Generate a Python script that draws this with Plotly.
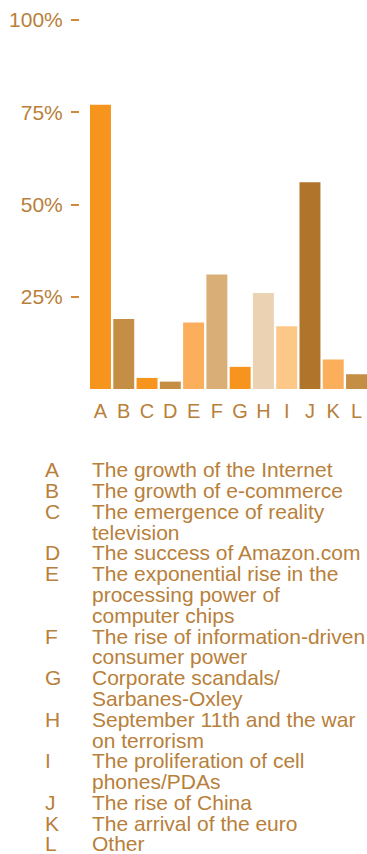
import plotly.graph_objects as go

# Survey responses: share of respondents naming each development
categories = ["A", "B", "C", "D", "E", "F", "G", "H", "I", "J", "K", "L"]
values = [77, 19, 3, 2, 18, 31, 6, 26, 17, 56, 8, 4]
bar_colors = ["#F7941D", "#C48E45", "#F7941D", "#C48E45", "#FBAE5C", "#D9AE77",
              "#F7941D", "#EAD2B3", "#FDC788", "#B0752A", "#FBAE5C", "#C48E45"]

y_ticks = [25, 50, 75, 100]
y_tick_labels = ["25%", "50%", "75%", "100%"]

# Key to the letters, already broken into display lines
descriptions = [
    ["The growth of the Internet"],
    ["The growth of e-commerce"],
    ["The emergence of reality", "television"],
    ["The success of Amazon.com"],
    ["The exponential rise in the", "processing power of", "computer chips"],
    ["The rise of information-driven", "consumer power"],
    ["Corporate scandals/", "Sarbanes-Oxley"],
    ["September 11th and the war", "on terrorism"],
    ["The proliferation of cell", "phones/PDAs"],
    ["The rise of China"],
    ["The arrival of the euro"],
    ["Other"],
]

TEXT = "#B8803A"
TICK = "#D08A3A"
FONT = "Liberation Sans, Arial, Helvetica, sans-serif"

W, H = 367, 854
M_L, M_R, M_T, M_B = 80, 0, 20, 465
plot_h = H - M_T - M_B
plot_w = W - M_L - M_R

fig = go.Figure(
    go.Bar(
        x=categories,
        y=values,
        marker=dict(color=bar_colors, line=dict(width=0)),
        hoverinfo="x+y",
    )
)


def paper_y(px):
    """Convert a pixel row (from top of the page) to paper y."""
    return (H - M_B - px) / plot_h


def paper_x(px):
    """Convert a pixel column to paper x."""
    return (px - M_L) / plot_w


annotations = []
line_step = 20.8
first_mid = 469.6
row = 0
for letter, lines in zip(categories, descriptions):
    annotations.append(dict(
        text=letter, xref="paper", yref="paper",
        x=paper_x(43), y=paper_y(first_mid + row * line_step),
        xanchor="left", yanchor="middle", showarrow=False,
        font=dict(size=21, color=TEXT, family=FONT),
    ))
    for ln in lines:
        annotations.append(dict(
            text=ln, xref="paper", yref="paper",
            x=paper_x(89.5), y=paper_y(first_mid + row * line_step),
            xanchor="left", yanchor="middle", showarrow=False,
            font=dict(size=21, color=TEXT, family=FONT),
        ))
        row += 1

fig.update_layout(
    width=W, height=H,
    margin=dict(l=M_L, r=M_R, t=M_T, b=M_B, pad=0),
    paper_bgcolor="white", plot_bgcolor="white",
    bargap=0.1,
    showlegend=False,
    font=dict(family=FONT, color=TEXT),
    annotations=annotations,
)

fig.update_xaxes(
    type="category",
    tickmode="array", tickvals=categories, ticktext=categories,
    range=[-0.88, 11.45],
    showgrid=False, zeroline=False, showline=False,
    ticks="", ticklabelstandoff=8,
    tickfont=dict(size=20, color=TEXT, family=FONT),
    fixedrange=True,
)

fig.update_yaxes(
    range=[0, 100],
    tickmode="array", tickvals=y_ticks, ticktext=y_tick_labels,
    showgrid=False, zeroline=False, showline=False,
    ticks="outside", ticklen=8, tickwidth=1.5, tickcolor=TICK,
    ticklabelstandoff=4,
    tickfont=dict(size=21, color=TEXT, family=FONT),
    fixedrange=True,
)

fig.write_html("out.html", config={"displayModeBar": False})
